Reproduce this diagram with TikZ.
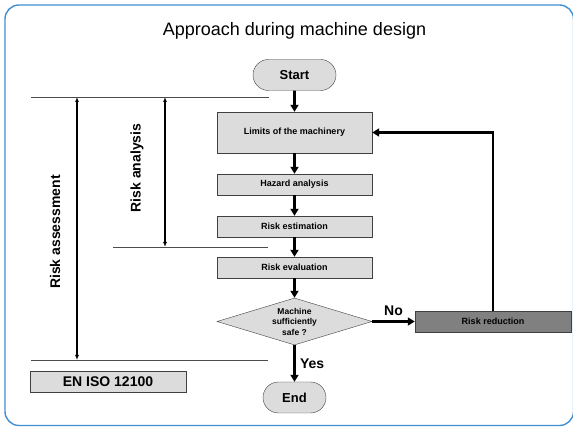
\documentclass[tikz,border=0pt]{standalone}
\usepackage{fontspec}
\setmainfont{Liberation Sans}
\usetikzlibrary{arrows.meta}
\usetikzlibrary{shapes.geometric, shapes.misc}
\definecolor{framblue}{RGB}{64,143,210}
\definecolor{boxgray}{RGB}{220,220,220}
\definecolor{darkbox}{RGB}{128,128,128}

\tikzset{
    stepbox/.style={draw=black!75, fill=boxgray, minimum width=155pt, minimum height=21pt, inner sep=0pt, font=\bfseries\fontsize{9}{10}\selectfont},
    termbox/.style={rounded rectangle, draw=black!75, fill=boxgray, minimum height=31pt, inner sep=0pt, font=\bfseries\fontsize{13}{15}\selectfont},
    flow/.style={line width=2.6pt, -{Triangle[length=7pt, width=8pt]}},
    sepline/.style={draw=black!70, line width=0.9pt},
    span/.style={line width=1.1pt, {Latex[length=5pt, width=4pt]}-{Latex[length=5pt, width=4pt]}},
    biglabel/.style={font=\bfseries\fontsize{14}{16}\selectfont}
}

\begin{document}
\begin{tikzpicture}[x=1pt, y=-1pt]
    \useasboundingbox (0, 0) rectangle (573, 427);
    \draw[framblue, line width=1.4pt, rounded corners=14pt] (5, 5) rectangle (573.5, 425.5);
    \node (title) at (294.5, 31) {\fontsize{18}{20}\selectfont Approach during machine design};

    % flow chart
    \node[termbox, minimum width=83pt] (start) at (294.5, 75) {Start};
    \node[stepbox, minimum height=41pt] (limits) at (294.5, 132.5) {Limits of the machinery};
    \node[stepbox] (hazard) at (294.5, 184.5) {Hazard analysis};
    \node[stepbox] (estim) at (294.5, 226.5) {Risk estimation};
    \node[stepbox] (evalu) at (294.5, 267.5) {Risk evaluation};
    \node[diamond, aspect=3.3, draw=black!75, fill=boxgray, minimum width=155pt, minimum height=47pt, inner sep=0pt, align=center, font=\bfseries\fontsize{8.5}{10.5}\selectfont] (safe) at (294.5, 321.5) {Machine\\sufficiently\\safe ?};
    \node[stepbox, fill=darkbox, minimum width=156pt] (reduce) at (493, 321.5) {Risk reduction};
    \node[termbox, minimum width=63pt] (end) at (294.5, 397.5) {End};
    \node[stepbox, minimum width=156pt, font=\bfseries\fontsize{14}{16}\selectfont] (iso) at (108, 381.5) {EN ISO 12100};

    \draw[flow] (start) -- (limits);
    \draw[flow] (limits) -- (hazard);
    \draw[flow] (hazard) -- (estim);
    \draw[flow] (estim) -- (evalu);
    \draw[flow] (evalu) -- (safe);
    \draw[flow] (safe) -- node[above, biglabel, pos=0.5, yshift=1pt] {No} (reduce);
    \draw[flow] (safe) -- node[right, biglabel, xshift=1pt] {Yes} (end);
    \draw[flow] (reduce.north) |- (limits.east);

    % ranges on the left
    \coordinate (topl) at (31, 97);
    \coordinate (topr) at (269, 97);
    \coordinate (midl) at (113, 247);
    \coordinate (midr) at (268, 247);
    \coordinate (botl) at (31, 360);
    \coordinate (botr) at (268, 360);
    \draw[sepline] (topl) -- (topr);
    \draw[sepline] (midl) -- (midr);
    \draw[sepline] (botl) -- (botr);
    \coordinate (assa) at (77, 97);
    \coordinate (assb) at (77, 360);
    \coordinate (anaa) at (165, 97);
    \coordinate (anab) at (165, 247);
    \draw[span] (assa) -- (assb);
    \draw[span] (anaa) -- (anab);
    \node[biglabel, rotate=90] (assess) at (55, 232) {Risk assessment};
    \node[biglabel, rotate=90] (analys) at (137, 168) {Risk analysis};
\end{tikzpicture}
\end{document}
